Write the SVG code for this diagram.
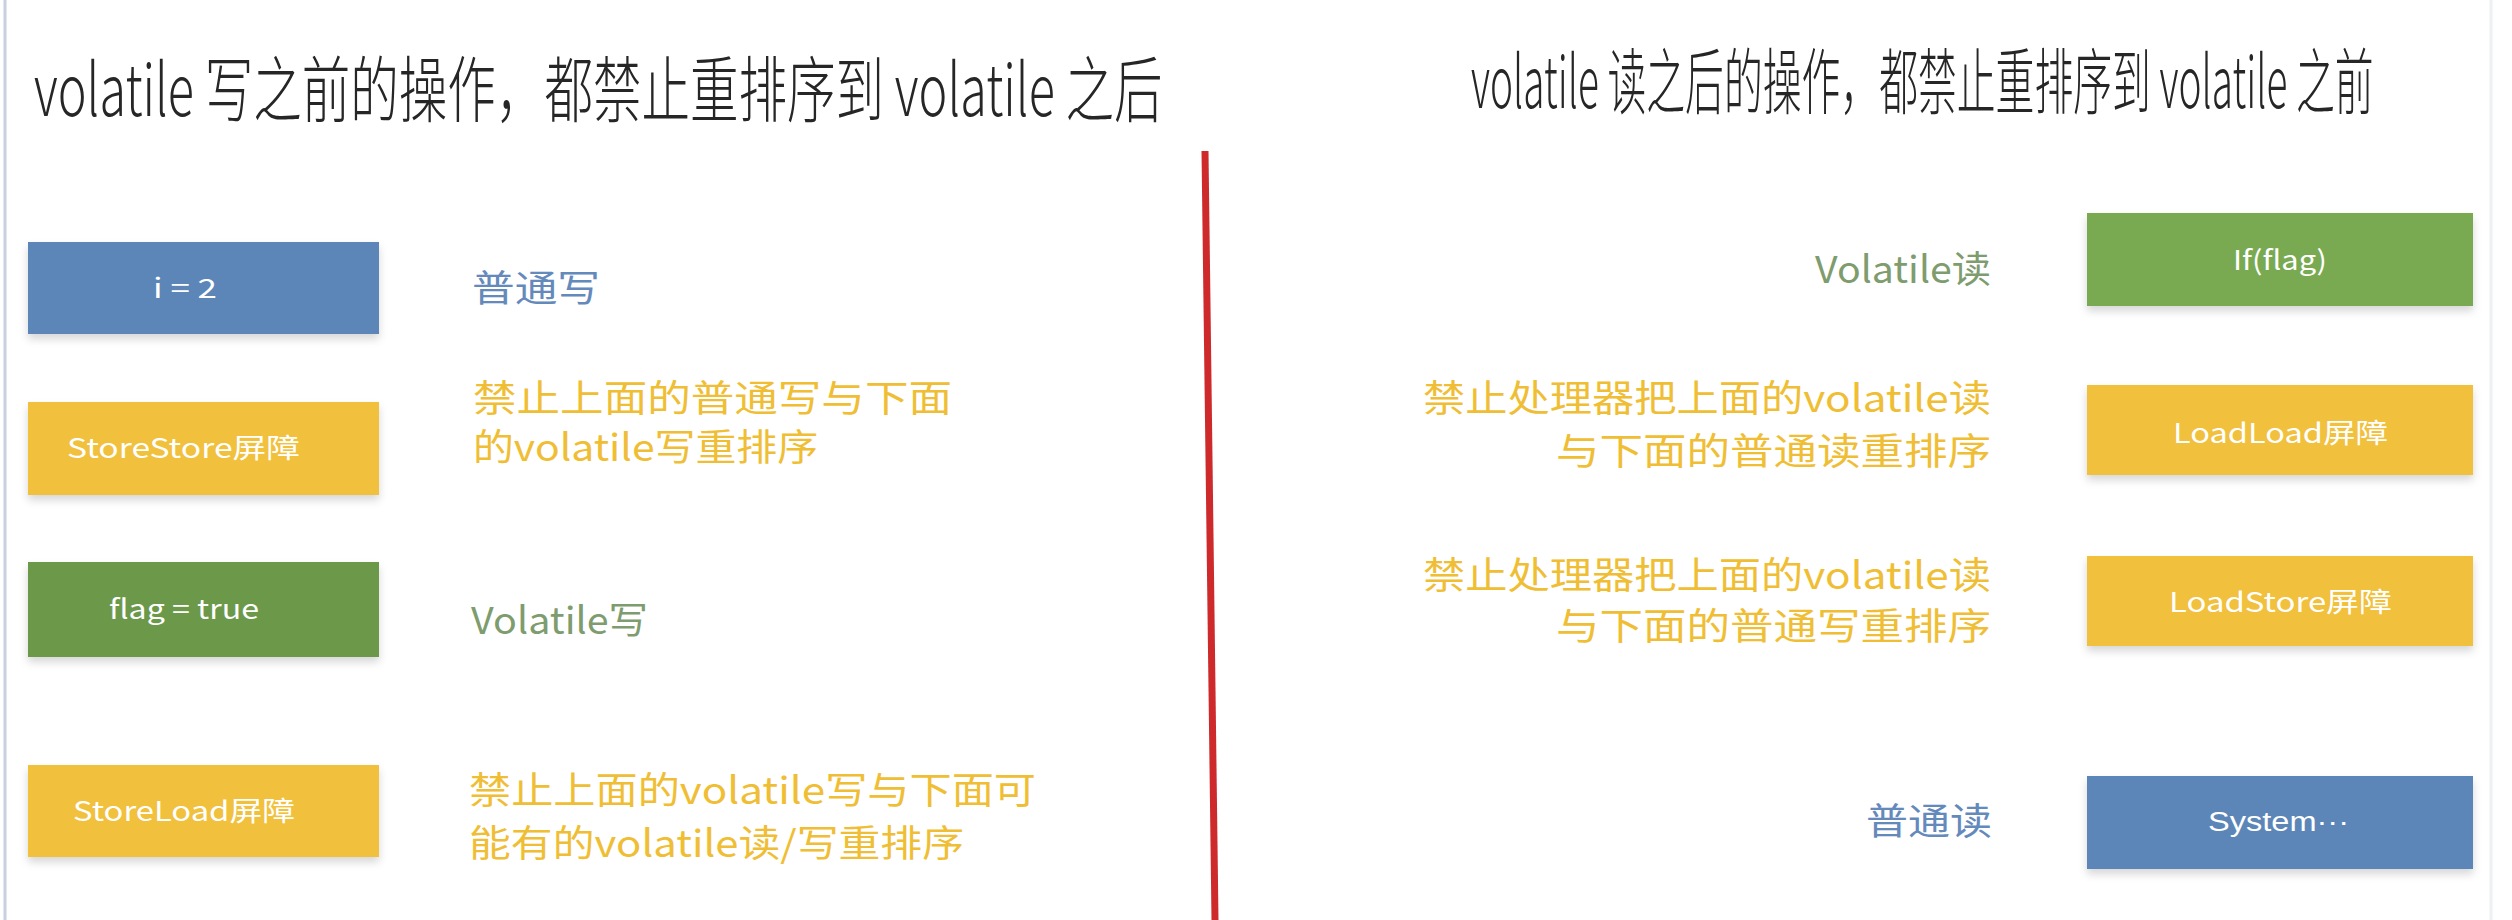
<svg xmlns="http://www.w3.org/2000/svg" width="2512" height="920" viewBox="0 0 2512 920">
  <defs>
    <filter id="sh" x="-5%" y="-20%" width="110%" height="150%">
      <feDropShadow dx="0" dy="5" stdDeviation="4" flood-color="#000" flood-opacity="0.16"/>
    </filter>
  </defs>
  <style>
    text { font-family: "Noto Sans CJK SC", "Liberation Sans", sans-serif; }
    .title { font-size: 72px; fill: #262626; font-weight: 300; }
    .box-text { font-size: 27px; fill: #ffffff; }
    .latin { font-family: "Liberation Sans", "Noto Sans CJK SC", sans-serif; }
    .lbl { font-size: 37px; }
    .blue { fill: #5B86B8; }
    .yellow { fill: #F1C03C; }
    .green { fill: #6C9948; }
    .green2 { fill: #79AA51; }
    .t-blue { fill: #6489BB; }
    .t-yellow { fill: #EFBE34; }
    .t-green { fill: #7E9C6E; }
  </style>

  <rect x="0" y="0" width="2512" height="920" fill="#ffffff"/>
  <line x1="5" y1="0" x2="5" y2="920" stroke="#C8D0E0" stroke-width="3"/>
  <line x1="2491" y1="0" x2="2491" y2="920" stroke="#EEF0F4" stroke-width="3"/>

  <g id="titles">
    <text class="title" transform="translate(34,116) scale(0.689,1)" x="0" y="0" textLength="1638" lengthAdjust="spacingAndGlyphs">volatile 写之前的操作，都禁止重排序到 volatile 之后</text>
    <text class="title" transform="translate(1471,108) scale(0.551,1)" x="0" y="0" textLength="1638" lengthAdjust="spacingAndGlyphs">volatile 读之后的操作，都禁止重排序到 volatile 之前</text>
  </g>

  <g id="connectors">
    <line x1="1205" y1="151" x2="1215" y2="920" stroke="#CE2A2C" stroke-width="7"/>
  </g>

  <!-- Left column -->
  <g id="node-i2">
    <rect class="blue" x="28" y="242" width="351" height="92" filter="url(#sh)"/>
    <text class="box-text" x="153" y="298" textLength="64" lengthAdjust="spacingAndGlyphs">i = 2</text>
  </g>
  <g id="label-putongxie">
    <text class="lbl t-blue" x="472" y="302" textLength="128" lengthAdjust="spacingAndGlyphs">普通写</text>
  </g>

  <g id="node-storestore">
    <rect class="yellow" x="28" y="402" width="351" height="93" filter="url(#sh)"/>
    <text class="box-text" x="67" y="458" textLength="233" lengthAdjust="spacingAndGlyphs">StoreStore屏障</text>
  </g>
  <g id="label-storestore">
    <text class="lbl t-yellow" x="473" y="412" textLength="479" lengthAdjust="spacingAndGlyphs">禁止上面的普通写与下面</text>
    <text class="lbl t-yellow" x="473" y="461" textLength="345" lengthAdjust="spacingAndGlyphs">的volatile写重排序</text>
  </g>

  <g id="node-flag">
    <rect class="green" x="28" y="562" width="351" height="95" filter="url(#sh)"/>
    <text class="box-text" x="109" y="619" textLength="150" lengthAdjust="spacingAndGlyphs">flag = true</text>
  </g>
  <g id="label-volatile-write">
    <text class="lbl t-green" x="471" y="634" textLength="177" lengthAdjust="spacingAndGlyphs">Volatile写</text>
  </g>

  <g id="node-storeload">
    <rect class="yellow" x="28" y="765" width="351" height="92" filter="url(#sh)"/>
    <text class="box-text" x="73" y="821" textLength="222" lengthAdjust="spacingAndGlyphs">StoreLoad屏障</text>
  </g>
  <g id="label-storeload">
    <text class="lbl t-yellow" x="469" y="804" textLength="567" lengthAdjust="spacingAndGlyphs">禁止上面的volatile写与下面可</text>
    <text class="lbl t-yellow" x="469" y="857" textLength="495" lengthAdjust="spacingAndGlyphs">能有的volatile读/写重排序</text>
  </g>

  <!-- Right column -->
  <g id="node-ifflag">
    <rect class="green2" x="2087" y="213" width="386" height="93" filter="url(#sh)"/>
    <text class="box-text" x="2233" y="270" textLength="94" lengthAdjust="spacingAndGlyphs">If(flag)</text>
  </g>
  <g id="label-volatile-read">
    <text class="lbl t-green" x="1815" y="283" textLength="176" lengthAdjust="spacingAndGlyphs">Volatile读</text>
  </g>

  <g id="node-loadload">
    <rect class="yellow" x="2087" y="385" width="386" height="90" filter="url(#sh)"/>
    <text class="box-text" x="2173" y="443" textLength="215" lengthAdjust="spacingAndGlyphs">LoadLoad屏障</text>
  </g>
  <g id="label-loadload">
    <text class="lbl t-yellow" x="1423" y="412" textLength="568" lengthAdjust="spacingAndGlyphs">禁止处理器把上面的volatile读</text>
    <text class="lbl t-yellow" x="1556" y="465" textLength="435" lengthAdjust="spacingAndGlyphs">与下面的普通读重排序</text>
  </g>

  <g id="node-loadstore">
    <rect class="yellow" x="2087" y="556" width="386" height="90" filter="url(#sh)"/>
    <text class="box-text" x="2169" y="612" textLength="223" lengthAdjust="spacingAndGlyphs">LoadStore屏障</text>
  </g>
  <g id="label-loadstore">
    <text class="lbl t-yellow" x="1423" y="589" textLength="568" lengthAdjust="spacingAndGlyphs">禁止处理器把上面的volatile读</text>
    <text class="lbl t-yellow" x="1556" y="640" textLength="435" lengthAdjust="spacingAndGlyphs">与下面的普通写重排序</text>
  </g>

  <g id="node-system">
    <rect class="blue" x="2087" y="776" width="386" height="93" filter="url(#sh)"/>
    <text class="box-text latin" x="2208" y="831" textLength="141" lengthAdjust="spacingAndGlyphs">System···</text>
  </g>
  <g id="label-putongdu">
    <text class="lbl t-blue" x="1866" y="835" textLength="126" lengthAdjust="spacingAndGlyphs">普通读</text>
  </g>
</svg>
